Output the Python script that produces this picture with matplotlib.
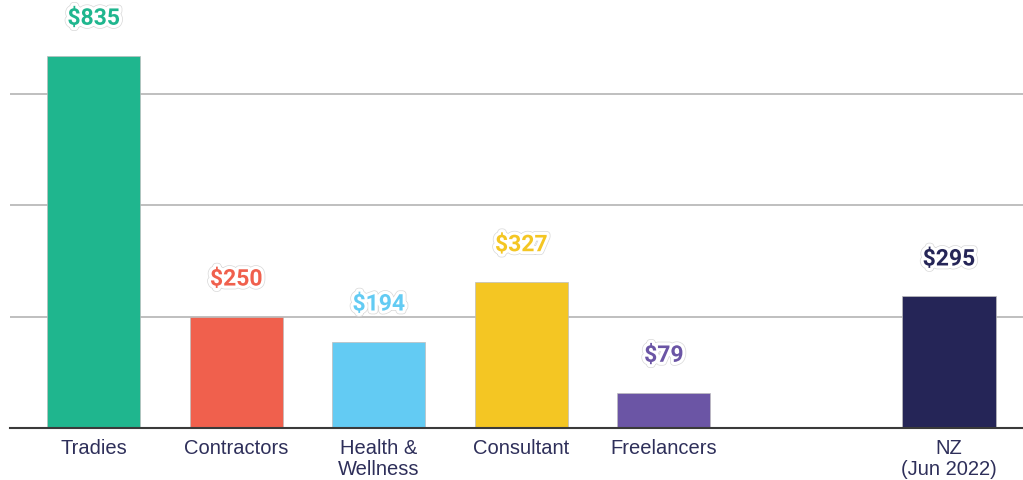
import matplotlib
matplotlib.use("Agg")
import matplotlib.pyplot as plt
import matplotlib.patheffects as pe

categories = ["Tradies", "Contractors", "Health &\nWellness", "Consultant", "Freelancers", "NZ\n(Jun 2022)"]
values = [835, 250, 194, 327, 79, 295]
positions = [0, 1, 2, 3, 4, 6]
colors = ["#1fb68e", "#f0604d", "#63cbf3", "#f4c623", "#6b55a5", "#252557"]
grid_values = [250, 500, 750]

text_color = "#2e2f5a"

fig = plt.figure(figsize=(10.23, 4.8), dpi=100)
ax = fig.add_axes([10 / 1023, 52 / 480, 1013 / 1023, 428 / 480])

for y in grid_values:
    ax.axhline(y, color="#b4b4b4", linewidth=1.2, zorder=0)

ax.bar(positions, values, width=0.655, color=colors, edgecolor="#bdbdbd",
       linewidth=0.5, zorder=2)

halo = [pe.Stroke(linewidth=5.5, foreground="#d8d8d8"),
        pe.Stroke(linewidth=4.5, foreground="white"),
        pe.Normal()]
for x, v, c in zip(positions, values, colors):
    ax.annotate("${}".format(v), (x, v), xytext=(0, 27), textcoords="offset points",
                ha="center", va="center", fontsize=16.5, fontweight="bold",
                family="Roboto", color=c, path_effects=halo, zorder=3)

ax.set_xlim(-0.587, 6.52)
ax.set_ylim(0, 960)
ax.set_xticks(positions)
ax.set_xticklabels(categories, fontsize=14.5, family="Liberation Sans",
                   color=text_color, linespacing=1.1)
ax.tick_params(axis="x", length=0, pad=8)
ax.set_yticks([])
for side in ["top", "right", "left"]:
    ax.spines[side].set_visible(False)
ax.spines["bottom"].set_color("#3a3a3a")
ax.spines["bottom"].set_linewidth(1.5)
ax.spines["bottom"].set_zorder(4)

fig.savefig("out.png", dpi=100, facecolor="white")
